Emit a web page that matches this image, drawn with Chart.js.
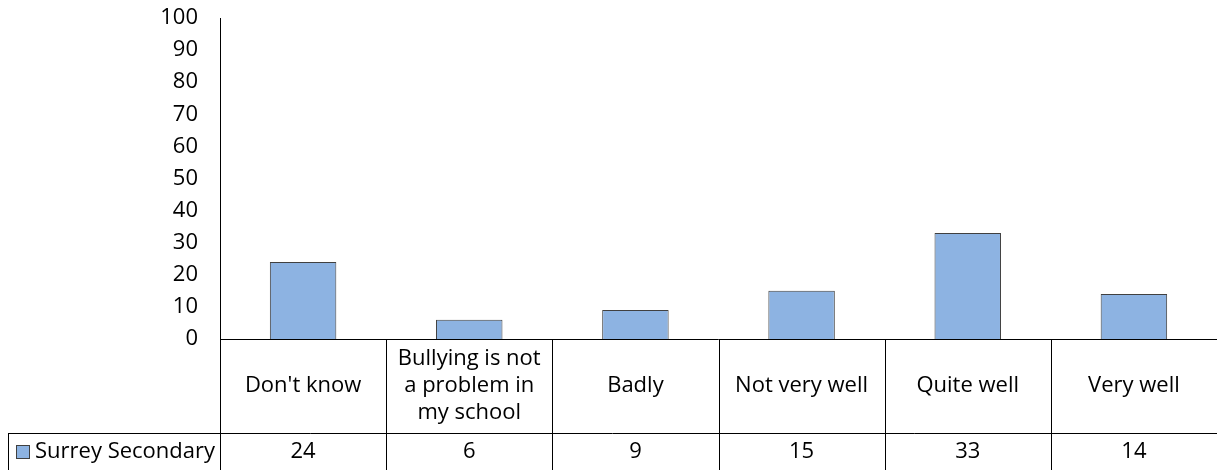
<!DOCTYPE html>
<html>
<head>
<meta charset="utf-8">
<script src="https://cdn.jsdelivr.net/npm/chart.js@4/dist/chart.umd.min.js"></script>
<style>
  body { margin: 0; background: #fff; }
  canvas { display: block; }
</style>
</head>
<body>
<canvas id="myChart" width="1217" height="470"></canvas>
<script>
//Data
var categories = ["Don't know", ["Bullying is not", "a problem in", "my school"], "Badly", "Not very well", "Quite well", "Very well"];
var seriesName = "Surrey Secondary";
var seriesValues = [24, 6, 9, 15, 33, 14];
var yTicks = [0, 10, 20, 30, 40, 50, 60, 70, 80, 90, 100];

var fontFamily = "'Open Sans', sans-serif";
var fontSize = 22;
var barFill = "#8DB3E2";
var lineCol = "#000";

//Draws the data table under the plot, like Excel does
const tablePlugin = {
  id: 'dataTable',
  afterDraw(chart) {
    const ctx = chart.ctx;
    const x = chart.scales.x;
    const area = chart.chartArea;
    const top = area.bottom;
    const mid = top + 94;
    const bottom = chart.height;
    const half = (x.getPixelForValue(1) - x.getPixelForValue(0)) / 2;

    ctx.save();
    ctx.strokeStyle = lineCol;
    ctx.lineWidth = 1;
    ctx.beginPath();
    //horizontal lines
    ctx.moveTo(area.left, top + 0.5);
    ctx.lineTo(area.right, top + 0.5);
    ctx.moveTo(8, mid + 0.5);
    ctx.lineTo(area.right, mid + 0.5);
    //legend cell left edge
    ctx.moveTo(8.5, mid);
    ctx.lineTo(8.5, bottom);
    //category separators
    for (var i = 0; i < categories.length; i++) {
      var bx = Math.round(x.getPixelForValue(i) - half) + 0.5;
      ctx.moveTo(bx, top);
      ctx.lineTo(bx, bottom);
    }
    ctx.stroke();

    ctx.fillStyle = "#000";
    ctx.font = fontSize + "px " + fontFamily;
    ctx.textAlign = "center";
    ctx.textBaseline = "middle";
    for (var i = 0; i < categories.length; i++) {
      var cx = x.getPixelForValue(i);
      var lines = Array.isArray(categories[i]) ? categories[i] : [categories[i]];
      var lh = 27;
      var y0 = (top + mid) / 2 - (lines.length - 1) * lh / 2;
      lines.forEach(function(t, j) { ctx.fillText(t, cx, y0 + j * lh); });
      ctx.fillText(String(seriesValues[i]), cx, (mid + bottom) / 2);
    }

    //legend key
    ctx.fillStyle = barFill;
    ctx.fillRect(16, 445, 14, 14);
    ctx.strokeStyle = "#404040";
    ctx.strokeRect(16.5, 445.5, 13, 13);
    ctx.fillStyle = "#000";
    ctx.textAlign = "left";
    ctx.fillText(seriesName, 35, (mid + bottom) / 2);
    ctx.restore();
  }
};

const data = {
  labels: categories,
  datasets: [
    {
      label: seriesName,
      data: seriesValues,
      backgroundColor: barFill,
      borderColor: "#404040",
      borderWidth: 1,
      categoryPercentage: 1,
      barPercentage: 0.4,
    }
  ]
};

const config = {
  type: 'bar',
  data: data,
  options: {
    responsive: false,
    animation: false,
    layout: {
      padding: { top: 18, bottom: 131, left: 0, right: 0 }
    },
    plugins: {
      legend: { display: false },
      tooltip: { enabled: false }
    },
    scales: {
      x: { display: false },
      y: {
        min: 0,
        max: 100,
        afterBuildTicks: function(s) { s.ticks = yTicks.map(function(v) { return { value: v }; }); },
        afterFit: function(s) {
          s.width = 220;
          s.paddingTop = 0;
          s.paddingBottom = 0;
        },
        grid: { display: false, drawTicks: false },
        border: { display: true, color: lineCol, width: 1 },
        ticks: {
          color: "#000",
          padding: 22,
          font: { family: fontFamily, size: fontSize }
        }
      }
    }
  },
  plugins: [tablePlugin]
};

var canvas = document.getElementById('myChart').getContext('2d');
var myChart = new Chart(canvas, config);
</script>
</body>
</html>
